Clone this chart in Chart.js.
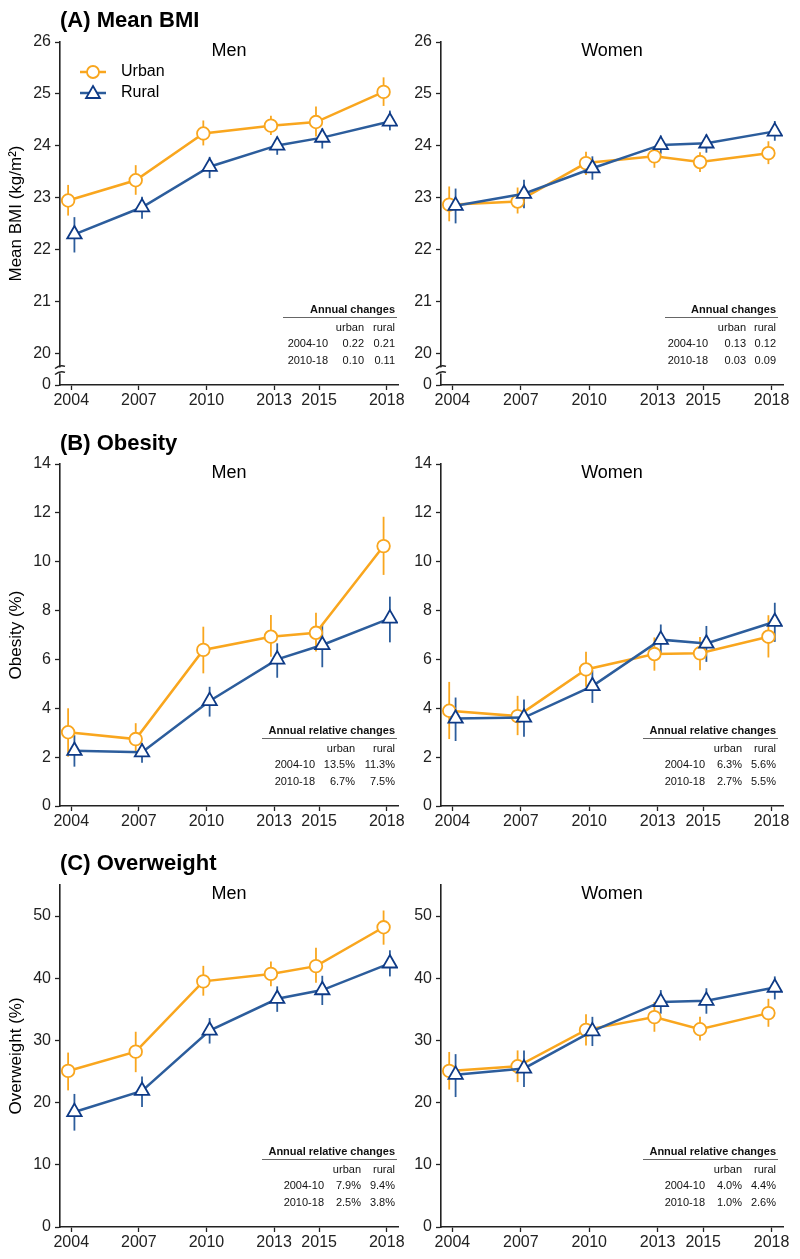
<!DOCTYPE html>
<html>
<head>
<meta charset="utf-8">
<script src="https://cdn.jsdelivr.net/npm/chart.js@4.4.1/dist/chart.umd.min.js"></script>
<style>
  body { margin: 0; background: #fff; font-family: "Liberation Sans", Arial, sans-serif; }
  #wrap { position: relative; width: 800px; height: 1259px; overflow: hidden; }
  .box { position: absolute; }
  .ptitle { position: absolute; font-weight: bold; font-size: 22px; color: #000; z-index: 5; }
</style>
</head>
<body>
<div id="wrap">
  <div class="box" style="left:0;top:0;width:420px;height:420px"><canvas id="aMen"></canvas></div>
  <div class="box" style="left:400px;top:0;width:400px;height:420px"><canvas id="aWomen"></canvas></div>
  <div class="box" style="left:0;top:420px;width:420px;height:420px"><canvas id="bMen"></canvas></div>
  <div class="box" style="left:400px;top:420px;width:400px;height:420px"><canvas id="bWomen"></canvas></div>
  <div class="box" style="left:0;top:840px;width:420px;height:419px"><canvas id="cMen"></canvas></div>
  <div class="box" style="left:400px;top:840px;width:400px;height:419px"><canvas id="cWomen"></canvas></div>
  <div class="ptitle" style="left:60px;top:7px">(A) Mean BMI</div>
  <div class="ptitle" style="left:60px;top:430px">(B) Obesity</div>
  <div class="ptitle" style="left:60px;top:850px">(C) Overweight</div>
</div>
<script>
const years = [2004, 2007, 2010, 2013, 2015, 2018];

// (A) mean BMI, kg/m2
const bmiMenUrban = [22.95, 23.34, 24.24, 24.39, 24.46, 25.04];
const bmiMenUrbanLo = [22.66, 23.06, 24.01, 24.21, 24.18, 24.77];
const bmiMenUrbanHi = [23.25, 23.63, 24.49, 24.58, 24.76, 25.32];
const bmiMenRural = [22.30, 22.82, 23.60, 24.01, 24.16, 24.47];
const bmiMenRuralLo = [21.95, 22.60, 23.38, 23.83, 23.95, 24.30];
const bmiMenRuralHi = [22.63, 23.02, 23.79, 24.18, 24.34, 24.68];
const bmiWomenUrban = [22.87, 22.93, 23.67, 23.80, 23.69, 23.86];
const bmiWomenUrbanLo = [22.55, 22.70, 23.44, 23.58, 23.50, 23.65];
const bmiWomenUrbanHi = [23.22, 23.20, 23.89, 24.00, 23.88, 24.09];
const bmiWomenRural = [22.85, 23.08, 23.57, 24.02, 24.05, 24.28];
const bmiWomenRuralLo = [22.51, 22.80, 23.35, 23.85, 23.87, 24.10];
const bmiWomenRuralHi = [23.18, 23.35, 23.80, 24.20, 24.22, 24.48];

// (B) obesity, %
const obMenUrban = [3.02, 2.74, 6.39, 6.93, 7.09, 10.64];
const obMenUrbanLo = [2.02, 2.22, 5.43, 6.11, 6.32, 9.46];
const obMenUrbanHi = [4.00, 3.39, 7.34, 7.82, 7.91, 11.84];
const obMenRural = [2.26, 2.20, 4.30, 6.00, 6.59, 7.68];
const obMenRuralLo = [1.61, 1.77, 3.66, 5.25, 5.68, 6.70];
const obMenRuralHi = [2.90, 2.57, 4.88, 6.66, 7.41, 8.57];
const obWomenUrban = [3.90, 3.68, 5.59, 6.22, 6.25, 6.93];
const obWomenUrbanLo = [2.74, 2.90, 4.88, 5.54, 5.56, 6.08];
const obWomenUrbanHi = [5.08, 4.51, 6.31, 6.90, 6.92, 7.81];
const obWomenRural = [3.58, 3.62, 4.91, 6.81, 6.65, 7.54];
const obWomenRuralLo = [2.66, 2.83, 4.22, 6.24, 5.90, 6.72];
const obWomenRuralHi = [4.44, 4.36, 5.56, 7.43, 7.37, 8.32];

// (C) overweight, %
const owMenUrban = [25.1, 28.2, 39.5, 40.7, 41.95, 48.2];
const owMenUrbanLo = [21.97, 24.9, 37.2, 38.7, 39.3, 45.4];
const owMenUrbanHi = [28.05, 31.4, 42.0, 42.7, 44.9, 50.9];
const owMenRural = [18.5, 21.9, 31.6, 36.7, 38.1, 42.4];
const owMenRuralLo = [15.5, 19.3, 29.5, 34.6, 35.7, 40.3];
const owMenRuralHi = [21.4, 24.2, 33.6, 38.7, 40.4, 44.5];
const owWomenUrban = [25.1, 25.85, 31.7, 33.75, 31.8, 34.4];
const owWomenUrbanLo = [22.1, 23.3, 29.2, 31.4, 30.0, 32.2];
const owWomenUrbanHi = [28.15, 28.4, 34.2, 36.2, 33.8, 36.7];
const owWomenRural = [24.5, 25.5, 31.5, 36.2, 36.4, 38.5];
const owWomenRuralLo = [20.9, 22.5, 29.1, 34.3, 34.3, 36.6];
const owWomenRuralHi = [27.8, 28.4, 33.8, 38.1, 38.4, 40.3];

// tick labels
const bmiTicks = [19.4, 20, 21, 22, 23, 24, 25, 26];
const obTicks = [0, 2, 4, 6, 8, 10, 12, 14];
const owTicks = [0, 10, 20, 30, 40, 50];

// annual change tables
const bmiMenTable = [["2004-10", "0.22", "0.21"], ["2010-18", "0.10", "0.11"]];
const bmiWomenTable = [["2004-10", "0.13", "0.12"], ["2010-18", "0.03", "0.09"]];
const obMenTable = [["2004-10", "13.5%", "11.3%"], ["2010-18", "6.7%", "7.5%"]];
const obWomenTable = [["2004-10", "6.3%", "5.6%"], ["2010-18", "2.7%", "5.5%"]];
const owMenTable = [["2004-10", "7.9%", "9.4%"], ["2010-18", "2.5%", "3.8%"]];
const owWomenTable = [["2004-10", "4.0%", "4.4%"], ["2010-18", "1.0%", "2.6%"]];

const ORANGE = "#F9A61E";
const BLUE = "#2C5D9C";
const NAVY = "#0E3A86";
const INK = "#222";
const FONT = "'Liberation Sans', Arial, sans-serif";
const DODGE = 0.14;

const extras = {
  id: "extras",
  beforeDatasetsDraw(chart) {
    const ctx = chart.ctx;
    const y = chart.scales.y;
    ctx.save();
    chart.data.datasets.forEach((ds, i) => {
      const meta = chart.getDatasetMeta(i);
      ctx.strokeStyle = ds.errColor;
      ctx.lineWidth = 1.8;
      meta.data.forEach((pt, j) => {
        ctx.beginPath();
        ctx.moveTo(pt.x, y.getPixelForValue(ds.errLo[j]));
        ctx.lineTo(pt.x, y.getPixelForValue(ds.errHi[j]));
        ctx.stroke();
      });
    });
    ctx.restore();
  },
  afterDraw(chart, args, opts) {
    const ctx = chart.ctx;
    const a = chart.chartArea;
    ctx.save();
    // Men / Women heading
    ctx.fillStyle = "#000";
    ctx.font = "18px " + FONT;
    ctx.textAlign = "center";
    ctx.textBaseline = "middle";
    ctx.fillText(opts.heading, (a.left + a.right) / 2, a.top + 9);

    // legend
    if (opts.legend) {
      const items = [
        { label: "Urban", color: ORANGE, edge: ORANGE, style: "circle", r: 6 },
        { label: "Rural", color: BLUE, edge: NAVY, style: "triangle", r: 8 }
      ];
      items.forEach((it, k) => {
        const yy = a.top + 30 + k * 21;
        ctx.strokeStyle = it.color;
        ctx.lineWidth = 2.5;
        ctx.beginPath();
        ctx.moveTo(a.left + 20, yy);
        ctx.lineTo(a.left + 46, yy);
        ctx.stroke();
        ctx.fillStyle = "#fff";
        ctx.strokeStyle = it.edge;
        ctx.lineWidth = 1.8;
        Chart.helpers.drawPoint(ctx, { pointStyle: it.style, radius: it.r, rotation: 0, borderWidth: 1.8 }, a.left + 33, yy + (it.style === "triangle" ? 1 : 0));
        ctx.fillStyle = "#000";
        ctx.font = "16px " + FONT;
        ctx.textAlign = "left";
        ctx.textBaseline = "middle";
        ctx.fillText(it.label, a.left + 61, yy);
      });
    }

    // table of annual changes
    const t = opts.table;
    const R = a.right;
    const B = a.bottom;
    ctx.fillStyle = "#111";
    ctx.textAlign = "right";
    ctx.textBaseline = "middle";
    ctx.font = "bold 11px " + FONT;
    ctx.fillText(t.title, R + t.rural, B - 75);
    ctx.strokeStyle = "#666";
    ctx.lineWidth = 1;
    ctx.beginPath();
    ctx.moveTo(R + t.lineFrom, B - 67.5);
    ctx.lineTo(R + t.lineTo, B - 67.5);
    ctx.stroke();
    ctx.font = "11px " + FONT;
    ctx.fillText("urban", R + t.urban, B - 57);
    ctx.fillText("rural", R + t.rural, B - 57);
    t.rows.forEach((row, k) => {
      const yy = B - 41 + k * 16.5;
      ctx.fillText(row[0], R + t.label, yy);
      ctx.fillText(row[1], R + t.urban, yy);
      ctx.fillText(row[2], R + t.rural, yy);
    });

    // axis break
    if (opts.axisBreak) {
      const yb = chart.scales.y.getPixelForValue(19.68);
      const x0 = a.left;
      ctx.fillStyle = "#fff";
      ctx.fillRect(x0 - 5, yb - 3, 10, 6);
      ctx.strokeStyle = INK;
      ctx.lineWidth = 1.4;
      ctx.beginPath();
      ctx.moveTo(x0 - 5, yb - 2); ctx.quadraticCurveTo(x0, yb - 6, x0 + 5, yb - 4);
      ctx.moveTo(x0 - 5, yb + 4); ctx.quadraticCurveTo(x0, yb, x0 + 5, yb + 2);
      ctx.stroke();
    }
    ctx.restore();
  }
};

function series(vals, lo, hi, rural) {
  return {
    label: rural ? "Rural" : "Urban",
    data: years.map((yr, i) => ({ x: yr + (rural ? DODGE : -DODGE), y: vals[i] })),
    errLo: lo,
    errHi: hi,
    errColor: rural ? BLUE : ORANGE,
    borderColor: rural ? BLUE : ORANGE,
    borderWidth: 2.5,
    pointStyle: rural ? "triangle" : "circle",
    pointRadius: rural ? 8.3 : 6.3,
    pointBorderWidth: 1.8,
    pointBorderColor: rural ? NAVY : ORANGE,
    pointBackgroundColor: "#fff",
    tension: 0,
    order: rural ? 0 : 1
  };
}

function panel(id, p) {
  new Chart(document.getElementById(id), {
    type: "line",
    data: {
      datasets: [
        series(p.urban, p.urbanLo, p.urbanHi, false),
        series(p.rural, p.ruralLo, p.ruralHi, true)
      ]
    },
    options: {
      responsive: true,
      maintainAspectRatio: false,
      animation: false,
      layout: { padding: { top: p.padTop, right: p.padRight, left: 0, bottom: 0 } },
      plugins: {
        legend: { display: false },
        tooltip: { enabled: false },
        extras: { heading: p.heading, legend: p.legend, table: p.table, axisBreak: p.axisBreak }
      },
      scales: {
        x: {
          type: "linear",
          min: 2003.5,
          max: 2018.5,
          afterBuildTicks: s => { s.ticks = years.map(v => ({ value: v })); },
          afterFit: s => { s.height = p.xHeight; },
          grid: { drawOnChartArea: false, tickLength: 5, color: INK, tickWidth: 1.3 },
          border: { display: true, color: INK, width: 1.6 },
          ticks: { color: INK, font: { size: 16, family: FONT }, padding: 1, maxRotation: 0, callback: v => String(v) }
        },
        y: {
          min: p.yTicks[0],
          max: p.yMax,
          afterBuildTicks: s => { s.ticks = p.yTicks.map(v => ({ value: v })); },
          afterFit: s => { s.width = p.yWidth; },
          grid: { drawOnChartArea: false, tickLength: 5, color: INK, tickWidth: 1.3 },
          border: { display: true, color: INK, width: 1.6 },
          ticks: { color: INK, font: { size: 16, family: FONT }, padding: 4, callback: v => (v < 19.9 && v > 19) ? "0" : String(v) },
          title: { display: !!p.yTitle, text: p.yTitle, color: "#000", font: { size: 17, family: FONT }, padding: { top: 6, bottom: 0 } }
        }
      }
    },
    plugins: [extras]
  });
}

const leftBMI = { title: "Annual changes", rural: -3, urban: -34, label: -70, lineFrom: -115, lineTo: -1 };
const rightBMI = { title: "Annual changes", rural: -7, urban: -37, label: -75, lineFrom: -118, lineTo: -5 };
const leftObT = { title: "Annual relative changes", rural: -3, urban: -43, label: -83, lineFrom: -136, lineTo: -1 };
const leftOwT = { title: "Annual relative changes", rural: -3, urban: -37, label: -74, lineFrom: -136, lineTo: -1 };
const rightRel = { title: "Annual relative changes", rural: -7, urban: -41, label: -78, lineFrom: -140, lineTo: -5 };

panel("aMen", {
  heading: "Men", legend: true, axisBreak: true, yTitle: "Mean BMI (kg/m\u00b2)",
  padTop: 42, padRight: 22, xHeight: 35, yWidth: 60, yTicks: bmiTicks, yMax: 26,
  urban: bmiMenUrban, urbanLo: bmiMenUrbanLo, urbanHi: bmiMenUrbanHi,
  rural: bmiMenRural, ruralLo: bmiMenRuralLo, ruralHi: bmiMenRuralHi,
  table: Object.assign({ rows: bmiMenTable }, leftBMI)
});
panel("aWomen", {
  heading: "Women", legend: false, axisBreak: true, yTitle: "",
  padTop: 42, padRight: 17, xHeight: 35, yWidth: 41, yTicks: bmiTicks, yMax: 26,
  urban: bmiWomenUrban, urbanLo: bmiWomenUrbanLo, urbanHi: bmiWomenUrbanHi,
  rural: bmiWomenRural, ruralLo: bmiWomenRuralLo, ruralHi: bmiWomenRuralHi,
  table: Object.assign({ rows: bmiWomenTable }, rightBMI)
});
panel("bMen", {
  heading: "Men", legend: false, axisBreak: false, yTitle: "Obesity (%)",
  padTop: 44, padRight: 22, xHeight: 34, yWidth: 60, yTicks: obTicks, yMax: 14,
  urban: obMenUrban, urbanLo: obMenUrbanLo, urbanHi: obMenUrbanHi,
  rural: obMenRural, ruralLo: obMenRuralLo, ruralHi: obMenRuralHi,
  table: Object.assign({ rows: obMenTable }, leftObT)
});
panel("bWomen", {
  heading: "Women", legend: false, axisBreak: false, yTitle: "",
  padTop: 44, padRight: 17, xHeight: 34, yWidth: 41, yTicks: obTicks, yMax: 14,
  urban: obWomenUrban, urbanLo: obWomenUrbanLo, urbanHi: obWomenUrbanHi,
  rural: obWomenRural, ruralLo: obWomenRuralLo, ruralHi: obWomenRuralHi,
  table: Object.assign({ rows: obWomenTable }, rightRel)
});
panel("cMen", {
  heading: "Men", legend: false, axisBreak: false, yTitle: "Overweight (%)",
  padTop: 45, padRight: 22, xHeight: 32, yWidth: 60, yTicks: owTicks, yMax: 55,
  urban: owMenUrban, urbanLo: owMenUrbanLo, urbanHi: owMenUrbanHi,
  rural: owMenRural, ruralLo: owMenRuralLo, ruralHi: owMenRuralHi,
  table: Object.assign({ rows: owMenTable }, leftOwT)
});
panel("cWomen", {
  heading: "Women", legend: false, axisBreak: false, yTitle: "",
  padTop: 45, padRight: 17, xHeight: 32, yWidth: 41, yTicks: owTicks, yMax: 55,
  urban: owWomenUrban, urbanLo: owWomenUrbanLo, urbanHi: owWomenUrbanHi,
  rural: owWomenRural, ruralLo: owWomenRuralLo, ruralHi: owWomenRuralHi,
  table: Object.assign({ rows: owWomenTable }, rightRel)
});
</script>
</body>
</html>
